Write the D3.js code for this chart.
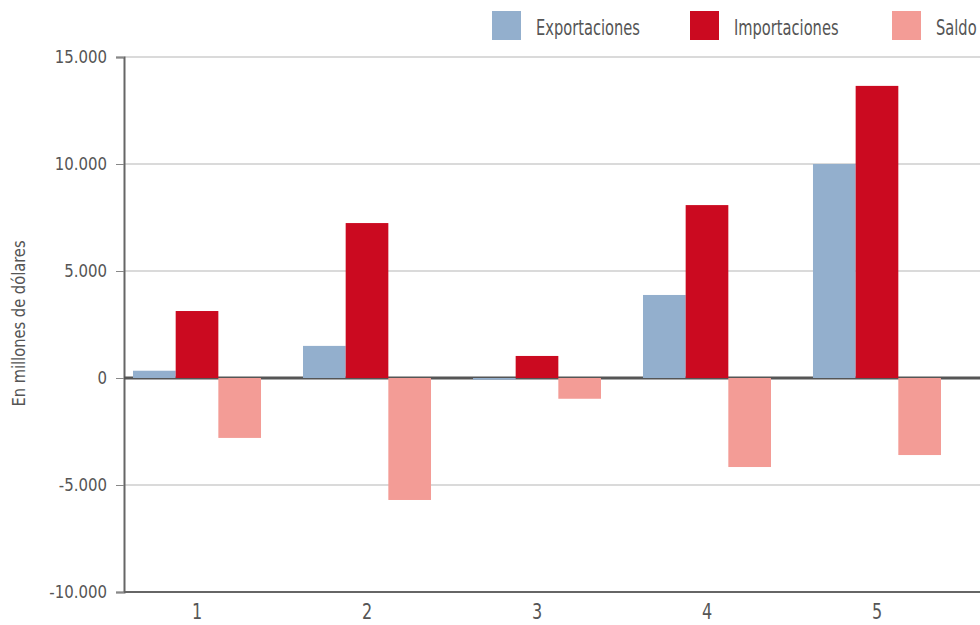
<!DOCTYPE html>
<html>
<head>
<meta charset="utf-8">
<script src="https://cdn.jsdelivr.net/npm/d3@7"></script>
<style>
  html, body { margin: 0; padding: 0; background: #fff; }
  svg text { font-family: "DejaVu Sans Condensed", "DejaVu Sans", sans-serif; font-stretch: condensed; fill: #555; }
</style>
</head>
<body>
<svg id="chart" width="980" height="625"></svg>
<script>
// Trade figures, millions of dollars
const categories = ["1", "2", "3", "4", "5"];
const seriesNames = ["Exportaciones", "Importaciones", "Saldo"];
const exportaciones = [340, 1500, -80, 3880, 10000];
const importaciones = [3130, 7240, 1030, 8080, 13650];
const saldo = [-2800, -5700, -970, -4160, -3600];
const yTicks = [-10000, -5000, 0, 5000, 10000, 15000];
const yTitle = "En millones de dólares";

const colors = ["#93afcd", "#cb0a20", "#f39c96"];
const seriesValues = [exportaciones, importaciones, saldo];

const svg = d3.select("#chart");
const plot = { left: 124, right: 980, top: 57, bottom: 592 };

const y = d3.scaleLinear().domain([-10000, 15000]).range([plot.bottom, plot.top]);
const x0 = d3.scaleBand().domain(categories).range([plot.left, 950])
  .paddingInner(0.247).paddingOuter(0.053);
const x1 = d3.scaleBand().domain(seriesNames).range([0, x0.bandwidth()]);

// thousands separated by "." and a plain hyphen for negatives
const fmt = v => d3.format(",")(v).replace(/,/g, ".").replace("\u2212", "-");

// gridlines
svg.append("g").selectAll("line").data(yTicks.filter(t => t !== 0 && t !== -10000))
  .join("line")
  .attr("x1", plot.left).attr("x2", plot.right)
  .attr("y1", d => y(d)).attr("y2", d => y(d))
  .attr("stroke", "#b5b5b5").attr("stroke-width", 1);

// left axis with ticks and labels (narrow lettering)
const yScaleX = 0.9;
const yAxis = d3.axisLeft(y).tickValues(yTicks).tickSize(8).tickPadding(9).tickFormat(fmt);
const gy = svg.append("g").attr("transform", `translate(${plot.left},0)`).call(yAxis);
gy.attr("font-family", null);
gy.select(".domain").attr("stroke", "#666").attr("stroke-width", 2);
gy.selectAll(".tick line").attr("stroke", "#888").attr("stroke-width", 1);
gy.selectAll(".tick text")
  .attr("font-size", 18.5).attr("fill", "#555")
  .attr("x", -17 / yScaleX)
  .attr("transform", `scale(${yScaleX},1)`);

// zero line
svg.append("line")
  .attr("x1", plot.left).attr("x2", plot.right)
  .attr("y1", y(0)).attr("y2", y(0))
  .attr("stroke", "#555").attr("stroke-width", 3);

// bars
const groups = svg.append("g").selectAll("g").data(categories).join("g")
  .attr("transform", d => `translate(${x0(d)},0)`);
groups.selectAll("rect")
  .data((c, i) => seriesNames.map((s, k) => ({ s, k, v: seriesValues[k][i] })))
  .join("rect")
  .attr("x", d => x1(d.s))
  .attr("width", x1.bandwidth())
  .attr("y", d => y(Math.max(0, d.v)))
  .attr("height", d => Math.abs(y(d.v) - y(0)))
  .attr("fill", d => colors[d.k]);

// bottom axis
const xAxis = d3.axisBottom(x0).tickSize(0).tickPadding(12);
const gx = svg.append("g").attr("transform", `translate(0,${plot.bottom})`).call(xAxis);
gx.attr("font-family", null);
gx.select(".domain").attr("d", `M${plot.left},0H${plot.right}`).attr("stroke", "#666").attr("stroke-width", 2);
gx.selectAll(".tick text")
  .attr("font-size", 21).attr("fill", "#555")
  .attr("transform", "scale(0.85,1)");

// y title
svg.append("text")
  .attr("transform", `translate(25,${(plot.top + plot.bottom) / 2 - 1}) rotate(-90) scale(0.96,1)`)
  .attr("text-anchor", "middle")
  .attr("font-size", 17)
  .text(yTitle);

// legend
const legendX = [492, 690, 892];
const lg = svg.append("g").selectAll("g").data(seriesNames).join("g")
  .attr("transform", (d, i) => `translate(${legendX[i]},11)`);
lg.append("rect").attr("width", 29).attr("height", 29).attr("fill", (d, i) => colors[i]);
lg.append("text")
  .attr("transform", "translate(44,24) scale(0.74,1)")
  .attr("font-size", 22)
  .text(d => d);
</script>
</body>
</html>
